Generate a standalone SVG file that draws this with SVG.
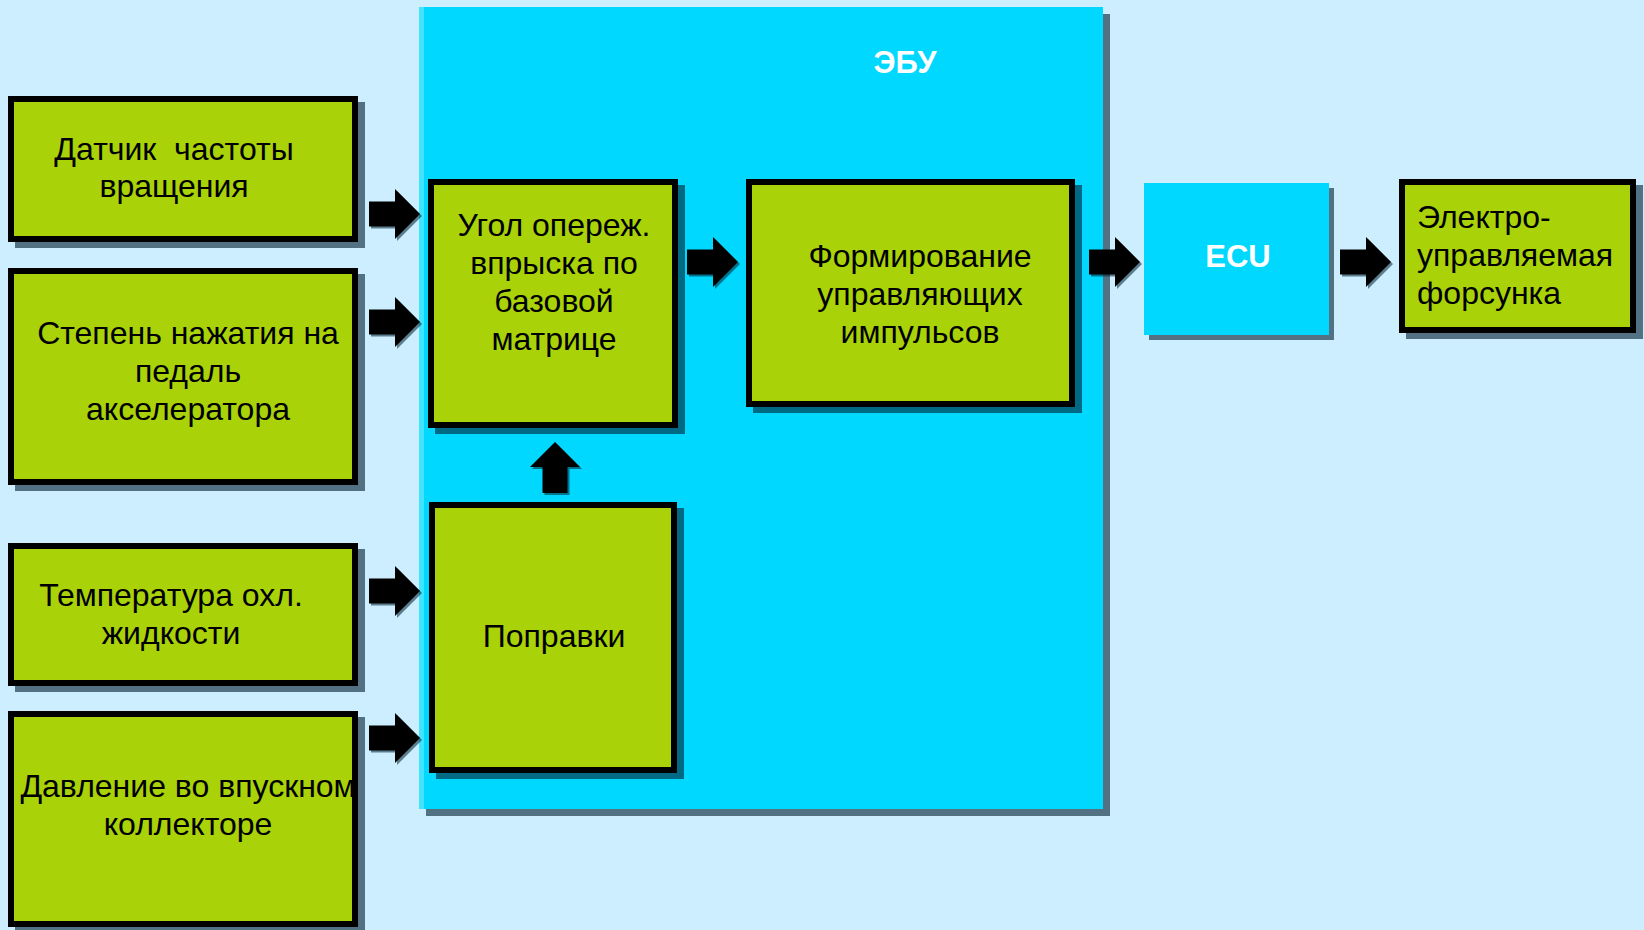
<svg xmlns="http://www.w3.org/2000/svg" width="1644" height="930" viewBox="0 0 1644 930">
  <style>
    .bg { fill: #cdeeff; }
    .shadow { fill: #002030; fill-opacity: 0.6; }
    .ecu { fill: #00d8ff; }
    .box { fill: #aad208; stroke: #000; stroke-width: 6; }
    .lbl { font-family: "Liberation Sans", Arial, sans-serif; font-size: 32px; fill: #000; text-anchor: middle; }
    .left { text-anchor: start; }
    .title { font-family: "Liberation Sans", Arial, sans-serif; font-size: 31px; font-weight: bold; fill: #fff; text-anchor: middle; }
    .arrow { fill: #000; }
    .arrow-sh { fill: #002030; fill-opacity: 0.55; }
  </style>
  <defs>
    <!-- block arrow, tail at origin, pointing along +x -->
    <path id="blk" d="M0,-12.5 H26 V-25 L51,0 L26,25 V12.5 H0 Z"/>
  </defs>

  <rect class="bg" x="0" y="0" width="1644" height="930"/>

  <!-- ECU container -->
  <g id="ebu">
    <rect class="shadow" x="426" y="14" width="684" height="802"/>
    <rect class="ecu" x="419" y="7" width="684" height="802"/>
    <rect x="419" y="7" width="5" height="802" fill="#40e4ff"/>
    <text class="title" x="905" y="73">ЭБУ</text>
  </g>

  <!-- sensor inputs -->
  <g id="n-speed">
    <rect class="shadow" x="15" y="102" width="350" height="146"/>
    <rect class="box" x="11" y="99" width="344" height="140"/>
    <text class="lbl" x="174" y="160" xml:space="preserve">Датчик  частоты</text>
    <text class="lbl" x="174" y="197">вращения</text>
  </g>

  <g id="n-pedal">
    <rect class="shadow" x="15" y="274" width="350" height="217"/>
    <rect class="box" x="11" y="271" width="344" height="211"/>
    <text class="lbl" x="188" y="344">Степень нажатия на</text>
    <text class="lbl" x="188" y="382">педаль</text>
    <text class="lbl" x="188" y="420">акселератора</text>
  </g>

  <g id="n-temp">
    <rect class="shadow" x="15" y="549" width="350" height="143"/>
    <rect class="box" x="11" y="546" width="344" height="137"/>
    <text class="lbl" x="171" y="606">Температура охл.</text>
    <text class="lbl" x="171" y="644">жидкости</text>
  </g>

  <g id="n-press">
    <rect class="shadow" x="15" y="717" width="350" height="216"/>
    <rect class="box" x="11" y="714" width="344" height="210"/>
    <text class="lbl" x="188" y="797">Давление во впускном</text>
    <text class="lbl" x="188" y="835">коллекторе</text>
  </g>

  <!-- processing blocks -->
  <g id="n-base">
    <rect class="shadow" x="435" y="185" width="250" height="249"/>
    <rect class="box" x="431" y="182" width="244" height="243"/>
    <text class="lbl" x="554" y="236">Угол опереж.</text>
    <text class="lbl" x="554" y="274">впрыска по</text>
    <text class="lbl" x="554" y="312">базовой</text>
    <text class="lbl" x="554" y="350">матрице</text>
  </g>

  <g id="n-corr">
    <rect class="shadow" x="436" y="508" width="248" height="271"/>
    <rect class="box" x="432" y="505" width="242" height="265"/>
    <text class="lbl" x="554" y="647">Поправки</text>
  </g>

  <g id="n-pulse">
    <rect class="shadow" x="753" y="185" width="329" height="228"/>
    <rect class="box" x="749" y="182" width="323" height="222"/>
    <text class="lbl" x="920" y="267">Формирование</text>
    <text class="lbl" x="920" y="305">управляющих</text>
    <text class="lbl" x="920" y="343">импульсов</text>
  </g>

  <g id="n-ecu">
    <rect class="shadow" x="1149" y="188" width="185" height="152"/>
    <rect class="ecu" x="1144" y="183" width="185" height="152"/>
    <text class="title" x="1238" y="267">ECU</text>
  </g>

  <g id="n-injector">
    <rect class="shadow" x="1406" y="185" width="237" height="154"/>
    <rect class="box" x="1402" y="182" width="231" height="148"/>
    <text class="lbl left" x="1417" y="228">Электро-</text>
    <text class="lbl left" x="1417" y="266">управляемая</text>
    <text class="lbl left" x="1417" y="304">форсунка</text>
  </g>

  <!-- connectors -->
  <g id="connectors">
    <g class="arrow-sh">
      <use href="#blk" transform="translate(371,216)"/>
      <use href="#blk" transform="translate(371,324)"/>
      <use href="#blk" transform="translate(371,593)"/>
      <use href="#blk" transform="translate(371,740)"/>
      <use href="#blk" transform="translate(689,264)"/>
      <use href="#blk" transform="translate(1091,264)"/>
      <use href="#blk" transform="translate(1342,264)"/>
      <use href="#blk" transform="translate(557,495) rotate(-90)"/>
    </g>
    <g class="arrow">
      <use href="#blk" transform="translate(369,214)"/>
      <use href="#blk" transform="translate(369,322)"/>
      <use href="#blk" transform="translate(369,591)"/>
      <use href="#blk" transform="translate(369,738)"/>
      <use href="#blk" transform="translate(687,262)"/>
      <use href="#blk" transform="translate(1089,262)"/>
      <use href="#blk" transform="translate(1340,262)"/>
      <use href="#blk" transform="translate(555,493) rotate(-90)"/>
    </g>
  </g>
</svg>
